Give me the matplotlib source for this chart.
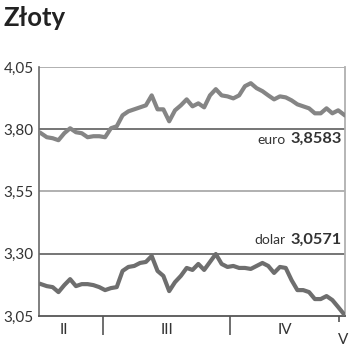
import matplotlib.pyplot as plt

# Kursy NBP
euro = [3.784, 3.768, 3.764, 3.756, 3.784, 3.804, 3.788, 3.784, 3.768, 3.772,
        3.772, 3.768, 3.804, 3.812, 3.856, 3.872, 3.880, 3.888, 3.896, 3.936,
        3.880, 3.880, 3.832, 3.876, 3.896, 3.920, 3.892, 3.904, 3.888, 3.936,
        3.961, 3.936, 3.932, 3.924, 3.936, 3.973, 3.985, 3.965, 3.953, 3.936,
        3.920, 3.932, 3.928, 3.916, 3.900, 3.892, 3.884, 3.864, 3.864, 3.884,
        3.864, 3.876, 3.8583]
dolar = [3.178, 3.170, 3.166, 3.146, 3.174, 3.198, 3.170, 3.178, 3.178, 3.174,
         3.166, 3.154, 3.162, 3.166, 3.231, 3.247, 3.251, 3.263, 3.267, 3.291,
         3.231, 3.211, 3.150, 3.186, 3.211, 3.243, 3.235, 3.259, 3.235, 3.267,
         3.299, 3.259, 3.247, 3.251, 3.243, 3.243, 3.239, 3.251, 3.263, 3.251,
         3.223, 3.247, 3.243, 3.194, 3.154, 3.154, 3.146, 3.118, 3.118, 3.130,
         3.114, 3.086, 3.0571]
yticks = [3.05, 3.30, 3.55, 3.80, 4.05]
month_labels = ["II", "III", "IV", "V"]
month_pos = [3.95, 21.6, 41.9, 51.8]
month_bounds = [10.64, 32.4]

plt.rcParams['font.family'] = ['Lato', 'DejaVu Sans']

fig = plt.figure(figsize=(3.5, 3.51), dpi=100)
ax = fig.add_axes([39/350, 1 - 316/351, 306/350, 249/351])

x = list(range(len(euro)))
ax.plot(x, euro, color="#858585", lw=3, solid_joinstyle="round", zorder=3)
ax.plot(x, dolar, color="#6e6e6e", lw=3, solid_joinstyle="round", zorder=3)

ax.set_xlim(-0.34, 52.17)
ax.set_ylim(3.05, 4.05)

# linie poziome
for v, c in [(3.30, "#6a6a6a"), (3.55, "#aaaaaa"), (3.80, "#6a6a6a"), (4.05, "#aaaaaa")]:
    ax.axhline(v, color=c, lw=1.3, zorder=1)

ax.spines["top"].set_visible(False)
ax.spines["right"].set_color("#b0b0b0")
ax.spines["right"].set_linewidth(1.3)
ax.spines["left"].set_color("#6a6a6a")
ax.spines["bottom"].set_color("#555555")
ax.spines["left"].set_linewidth(1.2)
ax.spines["bottom"].set_linewidth(1.3)

ax.set_yticks(yticks)
ax.set_yticklabels([f"{v:.2f}".replace(".", ",") for v in yticks], fontsize=11, color="#333333")
ax.tick_params(axis="y", length=0, pad=4)

ax.set_xticks(month_bounds)
ax.set_xticklabels([])
ax.tick_params(axis="x", length=13.5, width=1.2, color="#555555")
ax.set_xticks([51.1], minor=True)
ax.tick_params(axis="x", which="minor", length=4, width=1.2, color="#555555")

tr = ax.get_xaxis_transform()
for lab, p in zip(month_labels, month_pos):
    yy = -0.096 if lab == "V" else -0.056
    ax.text(p, yy, lab, transform=tr, ha="center", va="center", fontsize=11, color="#333333", clip_on=False)

# etykiety kursów
ax.text(51.66, 3.760, "3,8583", ha="right", va="center", fontsize=11.8, fontweight="bold", color="#333333")
ax.text(41.9, 3.758, "euro", ha="right", va="center", fontsize=10, color="#333333")
ax.text(51.66, 3.355, "3,0571", ha="right", va="center", fontsize=11.8, fontweight="bold", color="#333333")
ax.text(42.0, 3.355, "dolar", ha="right", va="center", fontsize=10, color="#333333")

fig.text(3/350, 1 - 18/351, "Złoty", fontsize=18.5, fontweight="bold", color="#222222", va="center", ha="left")

fig.savefig("out.png", dpi=100)
